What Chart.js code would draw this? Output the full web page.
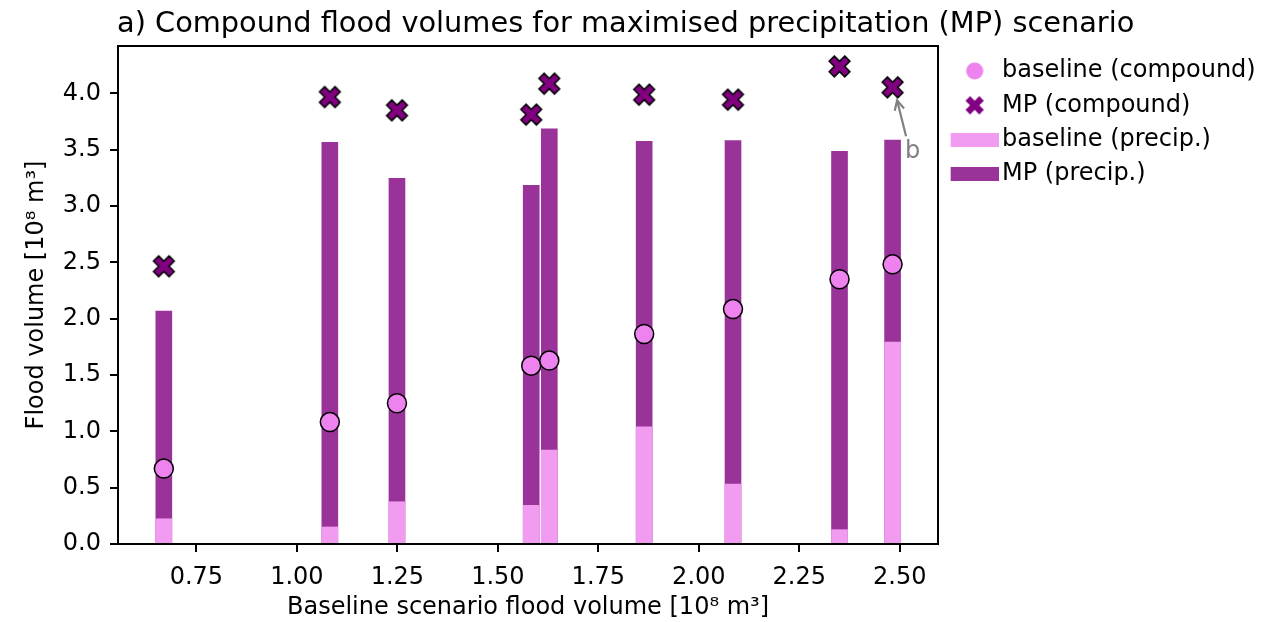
<!DOCTYPE html>
<html>
<head>
<meta charset="utf-8">
<script src="https://cdn.jsdelivr.net/npm/chart.js@4.4.1/dist/chart.umd.min.js"></script>
<style>
  html, body { margin: 0; padding: 0; background: #ffffff; }
  canvas { display: block; }
</style>
</head>
<body>
<canvas id="c" width="1265" height="622"></canvas>
<script>
// ---------------- data ----------------
const baselineCompound = [0.669, 1.082, 1.249, 1.583, 1.628, 1.864, 2.085, 2.350, 2.482];
const mpCompound       = [2.465, 3.967, 3.849, 3.811, 4.086, 3.988, 3.944, 4.239, 4.053];
const baselinePrecip   = [0.224, 0.151, 0.375, 0.343, 0.834, 1.041, 0.532, 0.127, 1.792];
const mpPrecip         = [2.067, 3.564, 3.246, 3.184, 3.684, 3.574, 3.580, 3.486, 3.586];
const seriesLabels = ['baseline (compound)', 'MP (compound)', 'baseline (precip.)', 'MP (precip.)'];
const xTickValues = [0.75, 1.00, 1.25, 1.50, 1.75, 2.00, 2.25, 2.50];
const xTickLabels = ['0.75', '1.00', '1.25', '1.50', '1.75', '2.00', '2.25', '2.50'];
const yTickValues = [0.0, 0.5, 1.0, 1.5, 2.0, 2.5, 3.0, 3.5, 4.0];
const yTickLabels = ['0.0', '0.5', '1.0', '1.5', '2.0', '2.5', '3.0', '3.5', '4.0'];
const titleText = 'a) Compound flood volumes for maximised precipitation (MP) scenario';
const xTitle = 'Baseline scenario flood volume [10\u2078 m\u00B3]';
const yTitle = 'Flood volume [10\u2078 m\u00B3]';
const annotText = 'b';

// ---------------- styles ----------------
const FONT = '"DejaVu Sans", "Liberation Sans", sans-serif';
const FS = 24;
const C_VIOLET = '#ee82ee';
const C_PURPLE = '#800080';
const C_BAR_LIGHT = '#f19bf1';
const C_BAR_DARK = '#993399';
const PLOT_RIGHT = 938;
const LEG = { fs: FS, pad: 10.3, boxW: 41.7, shift: 5.3 };

Chart.defaults.font.family = FONT;
Chart.defaults.font.size = FS;
Chart.defaults.color = '#000';

function drawXShape(g, cx, cy, size, fill, stroke, lw) {
  g.save();
  g.translate(cx, cy);
  g.rotate(Math.PI / 4);
  const a = size / 6, b = size / 2;
  g.beginPath();
  g.moveTo(-a, -b); g.lineTo(a, -b); g.lineTo(a, -a); g.lineTo(b, -a);
  g.lineTo(b, a); g.lineTo(a, a); g.lineTo(a, b); g.lineTo(-a, b);
  g.lineTo(-a, a); g.lineTo(-b, a); g.lineTo(-b, -a); g.lineTo(-a, -a);
  g.closePath();
  g.fillStyle = fill; g.fill();
  if (lw) { g.lineWidth = lw; g.strokeStyle = stroke; g.lineJoin = 'miter'; g.stroke(); }
  g.restore();
}
function makeXImg(size, fill, stroke, lw) {
  const c = document.createElement('canvas');
  const dim = Math.ceil(size * 0.943 + 2 * (lw + 1.5));
  c.width = dim; c.height = dim;
  drawXShape(c.getContext('2d'), dim / 2, dim / 2, size, fill, stroke, lw);
  return c;
}
function legendImg(w, h, fn) {
  const c = document.createElement('canvas');
  const s = Math.round(LEG.shift * 2);
  c.width = w + s; c.height = h;
  const g = c.getContext('2d');
  g.translate(s, 0);
  fn(g, w, h);
  return c;
}
const xMarker = makeXImg(22, C_PURPLE, '#000', 1.5);
const legendImgs = [
  legendImg(18, 18, (g) => { g.beginPath(); g.arc(9, 9, 8.5, 0, Math.PI * 2); g.fillStyle = C_VIOLET; g.fill(); }),
  legendImg(20, 20, (g) => drawXShape(g, 10, 10, 19.5, C_PURPLE, null, 0)),
  legendImg(48, 14, (g) => { g.fillStyle = C_BAR_LIGHT; g.fillRect(0, 0, 48, 14); }),
  legendImg(48, 14, (g) => { g.fillStyle = C_BAR_DARK; g.fillRect(0, 0, 48, 14); })
];
// trailing blanks make the legend's natural width exceed its cap, so its box is exactly 1265 - PLOT_RIGHT
const LEG_TRAIL = '\u00A0\u00A0\u00A0\u00A0';

function labelFor(values, labels, v) {
  const i = values.findIndex(t => Math.abs(t - v) < 1e-9);
  return i >= 0 ? labels[i] : '';
}

const titlePlugin = {
  id: 'figTitle',
  afterDraw(chart) {
    const ctx = chart.ctx;
    ctx.save();
    ctx.font = '28.8px ' + FONT;
    ctx.fillStyle = '#000';
    ctx.textAlign = 'left';
    ctx.textBaseline = 'alphabetic';
    ctx.fillText(titleText, chart.chartArea.left - 1, 31.6);
    ctx.restore();
  }
};
const framePlugin = {
  id: 'frame',
  afterDatasetsDraw(chart) {
    const { ctx, chartArea: a } = chart;
    ctx.save();
    ctx.strokeStyle = '#000';
    ctx.lineWidth = 2;
    ctx.strokeRect(a.left, a.top, a.right - a.left, a.bottom - a.top);
    ctx.restore();
  }
};
const annotPlugin = {
  id: 'annot',
  afterDatasetsDraw(chart) {
    const meta = chart.getDatasetMeta(1);
    const pt = meta.data[meta.data.length - 1];
    const px = pt.x, py = pt.y;
    const ctx = chart.ctx;
    const tip = { x: px + 4.5, y: py + 13 };
    const tail = { x: px + 13.5, y: py + 49 };
    ctx.save();
    ctx.strokeStyle = '#808080';
    ctx.lineWidth = 2.2;
    ctx.lineCap = 'butt';
    ctx.beginPath(); ctx.moveTo(tail.x, tail.y); ctx.lineTo(tip.x, tip.y); ctx.stroke();
    const dx = tail.x - tip.x, dy = tail.y - tip.y;
    const L = Math.hypot(dx, dy), ux = dx / L, uy = dy / L;
    const hl = 9.6, hw = 4.8;
    ctx.beginPath();
    ctx.moveTo(tip.x + ux * hl - uy * hw, tip.y + uy * hl + ux * hw);
    ctx.lineTo(tip.x, tip.y);
    ctx.lineTo(tip.x + ux * hl + uy * hw, tip.y + uy * hl - ux * hw);
    ctx.stroke();
    ctx.font = FS + 'px ' + FONT;
    ctx.fillStyle = '#808080';
    ctx.textAlign = 'left';
    ctx.textBaseline = 'alphabetic';
    ctx.fillText(annotText, px + 12.5, py + 71);
    ctx.restore();
  }
};

const axisCommon = {
  grid: { display: true, drawOnChartArea: false, drawTicks: true, tickLength: 8, color: '#000', lineWidth: 2, offset: false },
  border: { display: true, color: '#000', width: 2 }
};

new Chart(document.getElementById('c'), {
  type: 'bar',
  data: {
    datasets: [
      {
        type: 'scatter', label: seriesLabels[0], order: 1,
        data: baselineCompound.map(v => ({ x: v, y: v })),
        pointStyle: 'circle', pointRadius: 9.5, backgroundColor: C_VIOLET,
        borderColor: '#000', borderWidth: 1.5
      },
      {
        type: 'scatter', label: seriesLabels[1], order: 2,
        data: baselineCompound.map((v, i) => ({ x: v, y: mpCompound[i] })),
        pointStyle: xMarker, pointRadius: 10
      },
      {
        type: 'bar', label: seriesLabels[2], order: 3,
        data: baselineCompound.map((v, i) => ({ x: v, y: baselinePrecip[i] })),
        backgroundColor: C_BAR_LIGHT, borderWidth: 0, grouped: false,
        barThickness: 16, maxBarThickness: 16
      },
      {
        type: 'bar', label: seriesLabels[3], order: 4,
        data: baselineCompound.map((v, i) => ({ x: v, y: mpPrecip[i] })),
        backgroundColor: C_BAR_DARK, borderWidth: 0, grouped: false,
        barThickness: 16, maxBarThickness: 16
      }
    ]
  },
  options: {
    responsive: false,
    animation: false,
    events: [],
    devicePixelRatio: 1,
    layout: { padding: { top: 46, right: 0, bottom: 0, left: 0 } },
    plugins: {
      tooltip: { enabled: false },
      title: { display: false },
      legend: {
        display: true,
        position: 'right',
        align: 'start',
        fullSize: false,
        maxWidth: 1265 - PLOT_RIGHT,
        title: { display: true, text: ' ', font: { size: 1, lineHeight: 1 }, padding: { top: 0.85, bottom: 0.85 } },
        labels: {
          usePointStyle: true,
          pointStyleWidth: LEG.boxW,
          padding: LEG.pad,
          color: '#000',
          font: { size: LEG.fs, family: FONT },
          generateLabels: () => seriesLabels.map((t, i) => ({
            text: t + LEG_TRAIL, pointStyle: legendImgs[i], fillStyle: 'rgba(0,0,0,0)',
            strokeStyle: 'rgba(0,0,0,0)', lineWidth: 0, hidden: false,
            datasetIndex: i, fontColor: '#000'
          }))
        }
      }
    },
    scales: {
      x: {
        type: 'linear', position: 'bottom', min: 0.555, max: 2.595, offset: false,
        afterBuildTicks: (s) => { s.ticks = xTickValues.map(v => ({ value: v })); },
        afterFit: (s) => { s.height = 78; },
        ticks: { padding: 11, autoSkip: false, maxRotation: 0, color: '#000', font: { size: FS },
                 callback: (v) => labelFor(xTickValues, xTickLabels, v) },
        title: { display: true, text: xTitle, color: '#000', font: { size: FS }, padding: { top: 0, bottom: 0 } },
        ...axisCommon
      },
      y: {
        type: 'linear', position: 'left', min: 0, max: 4.42,
        afterBuildTicks: (s) => { s.ticks = yTickValues.map(v => ({ value: v })); },
        afterFit: (s) => { s.width = 118; },
        ticks: { padding: 9, color: '#000', font: { size: FS },
                 callback: (v) => labelFor(yTickValues, yTickLabels, v) },
        title: { display: true, text: yTitle, color: '#000', font: { size: FS }, padding: { top: 22, bottom: 0 } },
        ...axisCommon
      }
    }
  },
  plugins: [framePlugin, annotPlugin, titlePlugin]
});
</script>
</body>
</html>
